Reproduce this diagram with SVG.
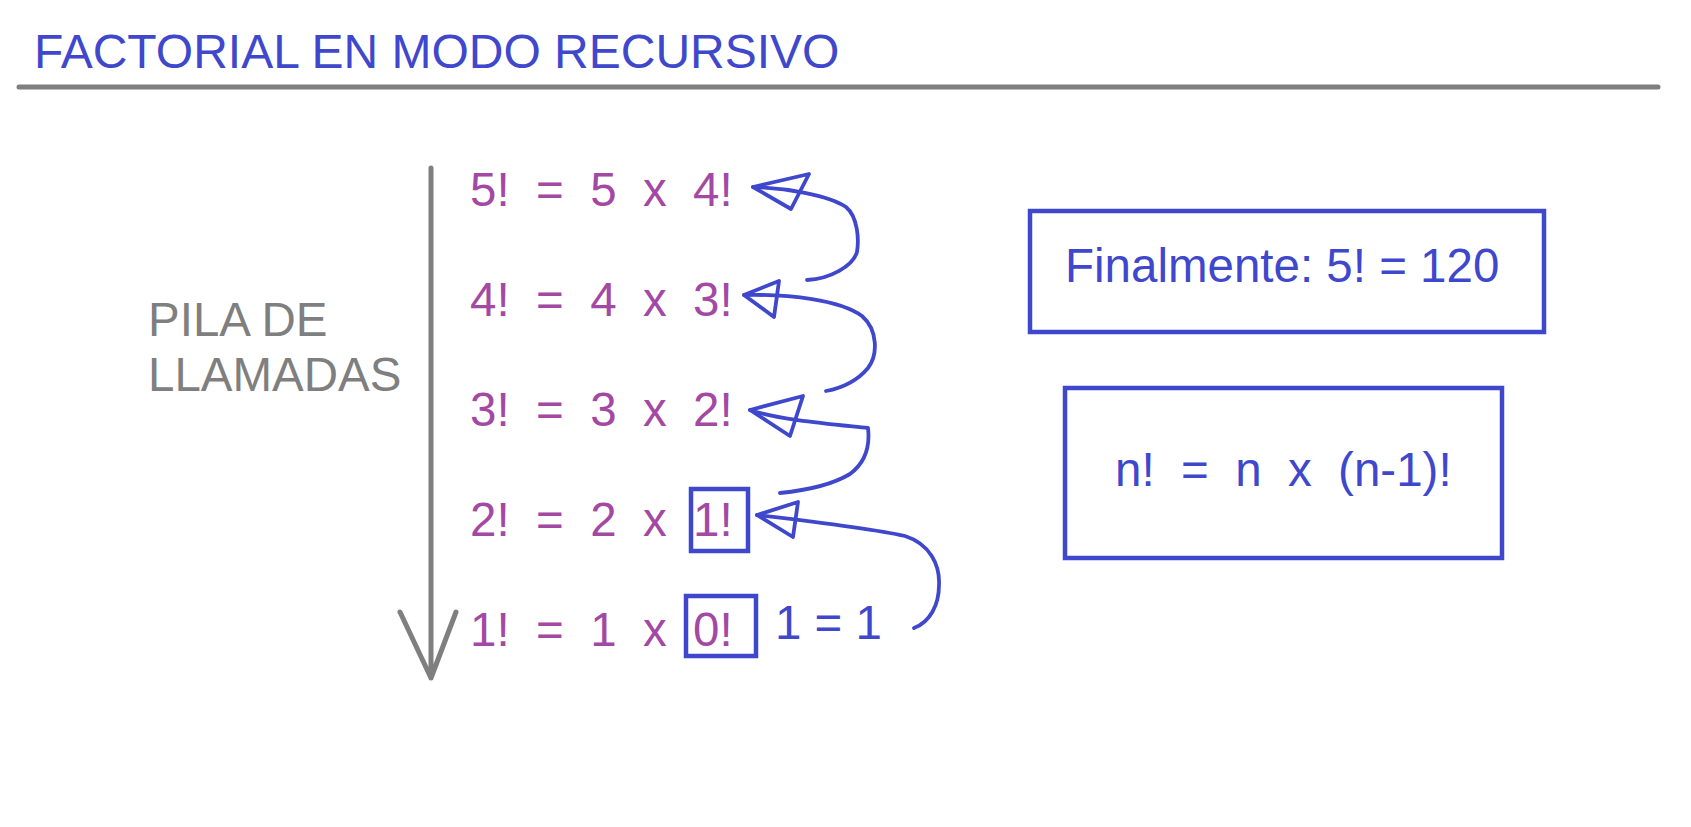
<svg xmlns="http://www.w3.org/2000/svg" width="1691" height="827" viewBox="0 0 1691 827">
<style>
text{font-family:"Liberation Sans",Arial,sans-serif;font-size:47.5px;white-space:pre}
.blue{fill:#3F48CC}
.purple{fill:#A349A4}
.gray{fill:#7F7F7F}
.box{fill:none;stroke:#3F48CC;stroke-width:4.5}
.conn{fill:none;stroke:#3F48CC;stroke-width:3.8;stroke-linejoin:round;stroke-linecap:round}
.stack{fill:none;stroke:#7F7F7F;stroke-width:5;stroke-linecap:round;stroke-linejoin:round}
</style>
<rect width="1691" height="827" fill="#fff"/>
<g id="title">
<text class="blue" x="34" y="68" style="font-size:48px">FACTORIAL EN MODO RECURSIVO</text>
<line x1="19" y1="87" x2="1658" y2="87" stroke="#7F7F7F" stroke-width="5" stroke-linecap="round"/>
</g>
<g id="pila">
<text class="gray" x="148" y="336">PILA DE</text>
<text class="gray" x="148" y="391">LLAMADAS</text>
<path class="stack" d="M431,168 L431,678 M400,612 L431,678 L456,612"/>
</g>
<g id="row5f"><text class="purple" x="470" y="206" xml:space="preserve">5!  =  5  x  4!</text></g>
<g id="row4f"><text class="purple" x="470" y="316" xml:space="preserve">4!  =  4  x  3!</text></g>
<g id="row3f"><text class="purple" x="470" y="426" xml:space="preserve">3!  =  3  x  2!</text></g>
<g id="row2f"><text class="purple" x="470" y="536" xml:space="preserve">2!  =  2  x  1!</text>
<rect class="box" x="691" y="489" width="57" height="62"/></g>
<g id="row1f"><text class="purple" x="470" y="646" xml:space="preserve">1!  =  1  x  0!</text>
<rect class="box" x="686" y="596" width="70" height="60"/>
<text class="blue" x="775" y="639">1 = 1</text></g>
<g id="resultado">
<rect class="box" x="1030" y="211" width="514" height="121"/>
<text class="blue" x="1065" y="282">Finalmente: 5! = 120</text>
</g>
<g id="formula">
<rect class="box" x="1065" y="388" width="437" height="170"/>
<text class="blue" x="1115" y="486" xml:space="preserve">n!  =  n  x  (n-1)!</text>
</g>
<g id="connectors">
<path class="conn" d="M753,187 C785,188 828,195 846,207 C858,217 859,240 857,252 C853,266 830,279 807,280"/>
<path class="conn" d="M753,187 L809,174 L791,209 Z"/>
<path class="conn" d="M744,295 C790,294 840,300 862,316 C878,330 878,355 868,368 C858,380 842,388 826,391"/>
<path class="conn" d="M744,295 L779,281 L774,317 Z"/>
<path class="conn" d="M750,410 C780,420 830,424 868,428 C870,445 866,462 850,474 C830,486 800,491 780,493"/>
<path class="conn" d="M750,410 L803,396 L790,436 Z"/>
<path class="conn" d="M757,515 C800,520 870,528 905,536 C930,544 940,565 939,585 C939,605 930,622 914,628"/>
<path class="conn" d="M757,515 L798,502 L793,537 Z"/>
</g>
</svg>
